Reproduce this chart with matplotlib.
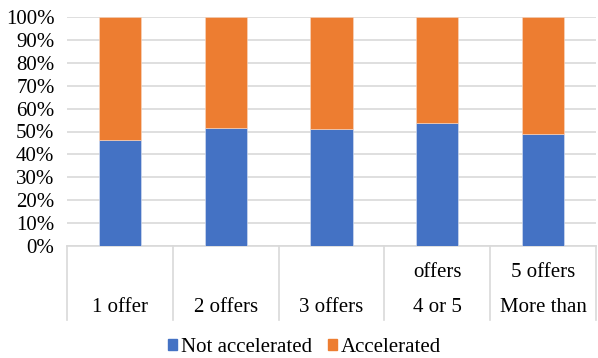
import matplotlib.pyplot as plt
import numpy as np
from matplotlib.transforms import blended_transform_factory
from matplotlib.ticker import PercentFormatter
from matplotlib.lines import Line2D

# data
categories = ["1 offer", "2 offers", "3 offers", "4 or 5 offers", "More than 5 offers"]
label_top = ["", "", "", "offers", "5 offers"]
label_bottom = ["1 offer", "2 offers", "3 offers", "4 or 5", "More than"]
not_accel = [46.5, 51.6, 50.9, 53.5, 49.0]
accel = [100 - v for v in not_accel]

blue = '#4472C4'
orange = '#ED7D31'
grid_c = '#D9D9D9'

plt.rcParams['font.family'] = ['Liberation Serif', 'DejaVu Serif']

fig = plt.figure(figsize=(5.98, 3.58), dpi=100, facecolor='white')
ax = fig.add_axes([67/598, 112/358, 529/598, 229/358])

x = np.arange(len(categories))
ax.bar(x, not_accel, width=0.4, color=blue, edgecolor='#DCE3F2', linewidth=0.4, zorder=3)
ax.bar(x, accel, width=0.4, bottom=not_accel, color=orange, edgecolor='#F8D9C4', linewidth=0.4, zorder=3)

ax.set_xlim(-0.5, len(categories) - 0.5)
ax.set_ylim(0, 100)
ax.set_yticks(np.arange(0, 101, 10))
ax.yaxis.set_major_formatter(PercentFormatter(decimals=0))
ax.tick_params(axis='y', length=0, pad=9, labelsize=15)
ax.set_xticks([])
ax.grid(axis='y', color=grid_c, linewidth=1.2, zorder=0)
for s in ['top', 'right', 'left']:
    ax.spines[s].set_visible(False)
ax.spines['bottom'].set_color(grid_c)
ax.spines['bottom'].set_linewidth(1.2)

# category separators and two-line labels
trans = blended_transform_factory(ax.transData, ax.transAxes)
for b in np.arange(-0.5, len(categories), 1.0):
    ax.add_line(Line2D([b, b], [0, -0.323], transform=trans, color=grid_c,
                       linewidth=1.2, clip_on=False))
for i in range(len(categories)):
    ax.text(x[i], -0.114, label_top[i], transform=trans, ha='center', va='center', fontsize=15)
    ax.text(x[i], -0.27, label_bottom[i], transform=trans, ha='center', va='center', fontsize=15)

handles = [plt.Rectangle((0, 0), 1, 1, color=blue), plt.Rectangle((0, 0), 1, 1, color=orange)]
fig.legend(handles, ['Not accelerated', 'Accelerated'], loc='center',
           bbox_to_anchor=(304.5/598, 1 - 347/358), ncol=2, frameon=False,
           fontsize=15, handlelength=0.43, handleheight=0.43, handletextpad=0.2,
           columnspacing=0.77, borderpad=0)

fig.savefig('out.png', dpi=100, facecolor='white')
